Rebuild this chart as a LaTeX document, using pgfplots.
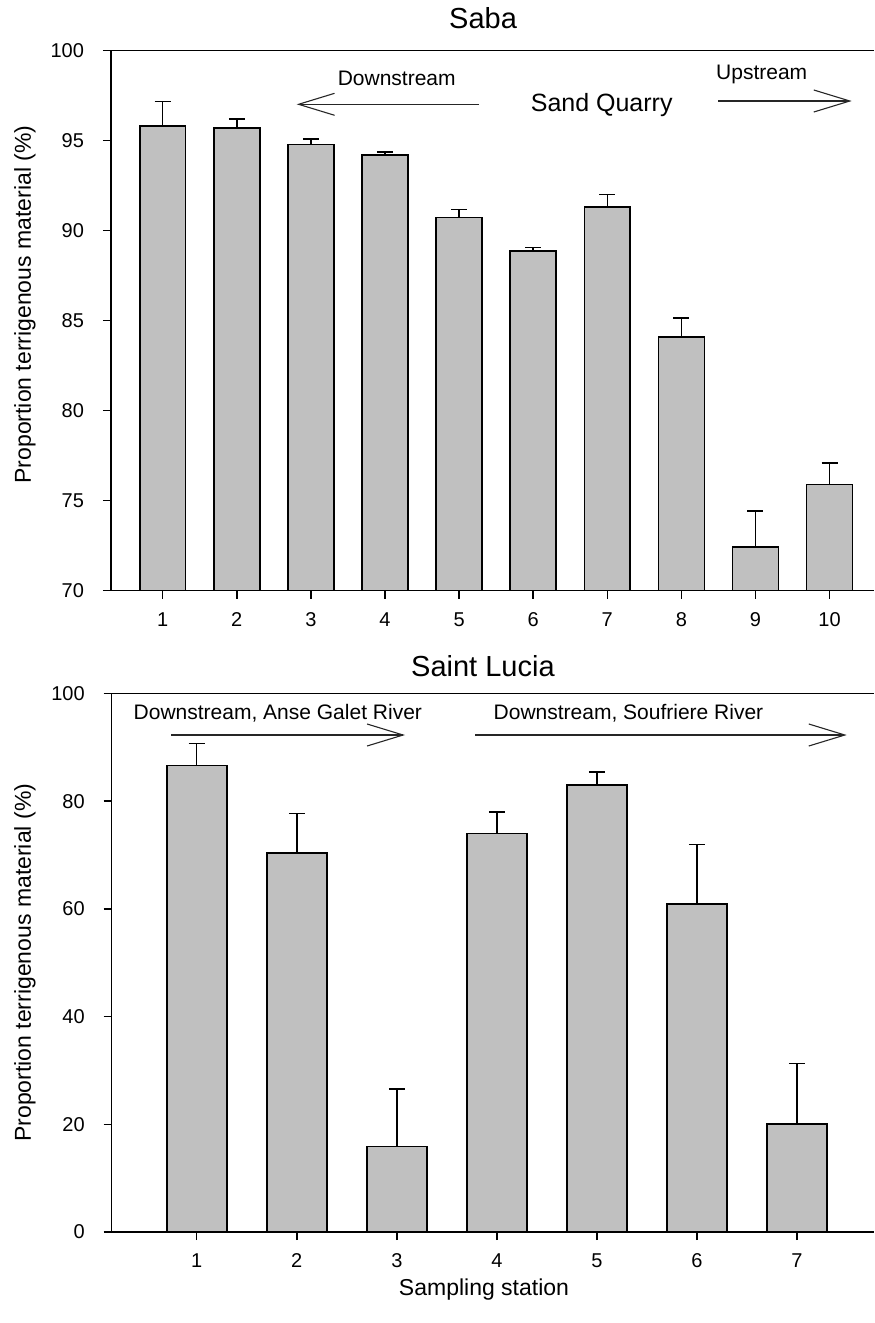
\documentclass[border=0pt]{standalone}
\usepackage{fontspec}
\setmainfont{Liberation Sans}
\usepackage{pgfplots}
\pgfplotsset{compat=1.18}
\usetikzlibrary{arrows.meta}
\definecolor{barg}{RGB}{192,192,192}
\pgfplotsset{
  myaxis/.style={
    scale only axis,
    anchor=south west,
    axis x line*=bottom,
    axis y line*=left,
    axis line style={line width=0.75pt, black},
    tick align=outside,
    major tick length=4pt,
    tick style={line width=0.75pt, black},
    /pgf/number format/assume math mode=true,
    ticklabel style={font=\fontsize{10}{12}\selectfont},
    xticklabel style={text height=7.2pt, text depth=0pt, yshift=-3pt},
    yticklabel style={xshift=-6pt},
    label style={font=\fontsize{11.5}{13}\selectfont},
    every axis title shift=0pt,
    title style={font=\fontsize{14.5}{17}\selectfont, anchor=center},
    clip=true,
  },
  mybar/.style={
    ybar, bar width=#1, fill=barg, draw=black, line width=0.8pt,
    error bars/.cd, y dir=plus, y explicit,
    error bar style={line width=0.75pt, black},
    error mark options={black, line width=0.75pt, mark size=4pt, rotate=90},
  },
}
\begin{document}
\begin{tikzpicture}
\useasboundingbox (0pt,0pt) rectangle (437pt,-661.5pt);
% ---------------- Saba ----------------
\begin{axis}[myaxis,
  at={(55.5pt,-295.35pt)}, width=381.5pt, height=270pt,
  xmin=0.302, xmax=10.6, ymin=70, ymax=100,
  xtick={1,...,10}, ytick={70,75,...,100},
  ylabel={Proportion terrigenous material (\%)},
  ylabel style={at={(axis description cs:-0.1127,0.53)}, anchor=center},
  title={Saba},
  title style={at={(axis description cs:0.4876,1.0606)}},
]
\addplot[mybar=0.62] coordinates {
  (1,95.83) +- (0,1.36)
  (2,95.72) +- (0,0.48)
  (3,94.78) +- (0,0.31)
  (4,94.19) +- (0,0.18)
  (5,90.74) +- (0,0.45)
  (6,88.86) +- (0,0.22)
  (7,91.33) +- (0,0.69)
  (8,84.08) +- (0,1.07)
  (9,72.44) +- (0,2.00)
  (10,75.91) +- (0,1.18)
};
\draw[line width=0.75pt, black] (rel axis cs:0,1) -- (rel axis cs:1,1);
\end{axis}
% ---------------- Saint Lucia ----------------
\begin{axis}[myaxis,
  at={(55.85pt,-616pt)}, width=381.15pt, height=269.25pt,
  xmin=0.15, xmax=7.77, ymin=0, ymax=100,
  xtick={1,...,7}, ytick={0,20,...,100},
  ylabel={Proportion terrigenous material (\%)},
  ylabel style={at={(axis description cs:-0.1137,0.5)}, anchor=center},
  xlabel={Sampling station},
  xlabel style={at={(axis description cs:0.4884,-0.1077)}, anchor=center},
  title={Saint Lucia},
  title style={at={(axis description cs:0.487,1.051)}},
]
\addplot[mybar=0.6] coordinates {
  (1,86.6) +- (0,4.1)
  (2,70.4) +- (0,7.3)
  (3,15.9) +- (0,10.7)
  (4,74.0) +- (0,4.0)
  (5,83.0) +- (0,2.4)
  (6,60.9) +- (0,11.1)
  (7,20.1) +- (0,11.2)
};
\draw[line width=0.75pt, black] (rel axis cs:0,1) -- (rel axis cs:1,1);
\end{axis}
% ---------------- annotations (pixel coordinates) ----------------
\begin{scope}[x=0.5pt, y=-0.5pt, arr/.style={line width=0.55pt, black!85, -{Straight Barb[length=18pt, width=11pt, line width=0.55pt]}}]
  \node[font=\fontsize{10.5}{12}\selectfont] at (396.7,78) {Downstream};
  \draw[arr] (479,104.3) -- (296.7,104.3);
  \node[font=\fontsize{12.5}{14}\selectfont] at (601.7,105) {Sand Quarry};
  \node[font=\fontsize{10.5}{12}\selectfont] at (761.7,74.3) {Upstream};
  \draw[arr] (718.3,101) -- (851.7,101);
  \node[font=\fontsize{10.5}{12}\selectfont, anchor=west, inner sep=0pt] at (133.3,713.3) {Downstream, Anse Galet River};
  \draw[arr] (171,735) -- (405,735);
  \node[font=\fontsize{10.5}{12}\selectfont, anchor=west, inner sep=0pt] at (493.3,713.3) {Downstream, Soufriere River};
  \draw[arr] (475,735) -- (846.7,735);
\end{scope}
\end{tikzpicture}
\end{document}
